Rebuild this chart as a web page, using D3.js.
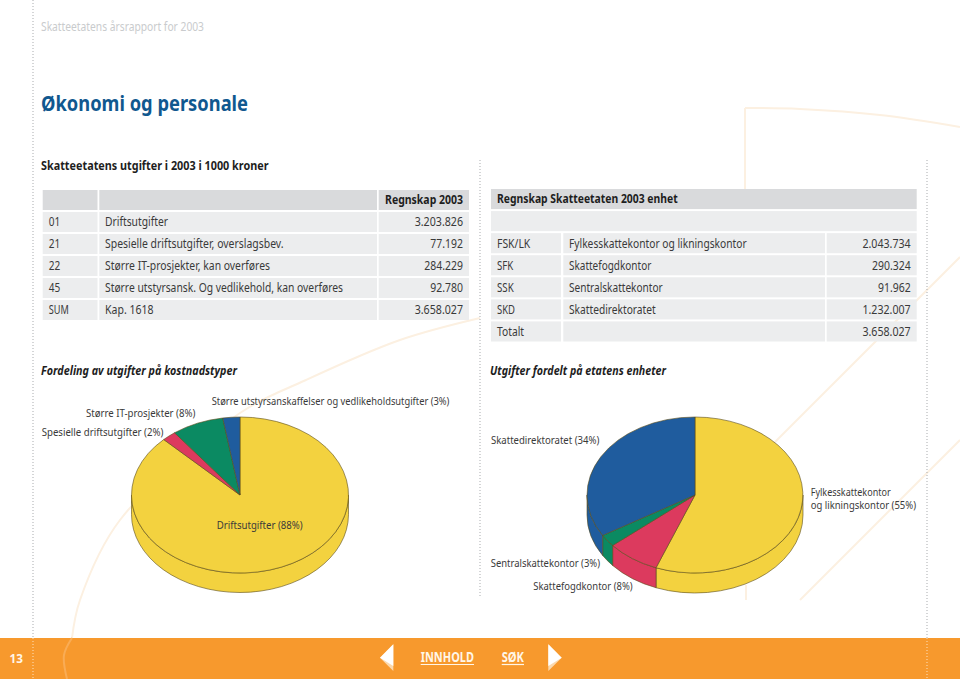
<!DOCTYPE html>
<html><head><meta charset="utf-8">
<script src="https://cdn.jsdelivr.net/npm/d3@7/dist/d3.min.js"></script>
<style>
html,body{margin:0;padding:0;background:#fff}
svg{display:block}
text{font-family:"Noto Sans",sans-serif;fill:#3a3a3a}
</style></head><body>
<svg id="c" width="960" height="679"></svg>
<script>
const costCodes=["01","21","22","45","SUM"];
const costNames=["Driftsutgifter","Spesielle driftsutgifter, overslagsbev.","Større IT-prosjekter, kan overføres","Større utstyrsansk. Og vedlikehold, kan overføres","Kap. 1618"];
const costValues=["3.203.826","77.192","284.229","92.780","3.658.027"];
const unitCodes=["FSK/LK","SFK","SSK","SKD","Totalt"];
const unitNames=["Fylkesskattekontor og likningskontor","Skattefogdkontor","Sentralskattekontor","Skattedirektoratet",""];
const unitValues=["2.043.734","290.324","91.962","1.232.007","3.658.027"];
const pieCostValues=[3203826,77192,284229,92780];
const pieCostLabels=["Driftsutgifter (88%)","Spesielle driftsutgifter (2%)","Større IT-prosjekter (8%)","Større utstyrsanskaffelser og vedlikeholdsutgifter (3%)"];
const pieUnitValues=[2043734,290324,91962,1232007];
const pieUnitLabels=[["Fylkesskattekontor","og likningskontor (55%)"],["Skattefogdkontor (8%)"],["Sentralskattekontor (3%)"],["Skattedirektoratet (34%)"]];
const sliceColors=["#f3d23f","#dc3a5e","#0b8a62","#1f5c9e"];

// measured text widths (layout only): the reference face is narrower than any installed one
const fit=new Map([
 ["Skatteetatens årsrapport for 2003",163],["Økonomi og personale",207],
 ["Skatteetatens utgifter i 2003 i 1000 kroner",227.5],
 ["Fordeling av utgifter på kostnadstyper",196],["Utgifter fordelt på etatens enheter",176],
 ["Regnskap 2003",78],["01",11.5],["21",11.5],["22",11.5],["45",11.5],["SUM",20],
 ["Driftsutgifter",63],["Spesielle driftsutgifter, overslagsbev.",178.5],
 ["Større IT-prosjekter, kan overføres",165],["Større utstyrsansk. Og vedlikehold, kan overføres",238],
 ["Kap. 1618",48.5],["3.203.826",48.3],["77.192",32.7],["284.229",38.7],["92.780",32.7],["3.658.027",48.3],
 ["Regnskap Skatteetaten 2003 enhet",180.7],["FSK/LK",33.3],["SFK",16.3],["SSK",16.7],["SKD",18],["Totalt",27],
 ["Fylkesskattekontor og likningskontor",177.7],["Skattefogdkontor",82.3],["Sentralskattekontor",93.7],["Skattedirektoratet",86.7],
 ["2.043.734",48.3],["290.324",38.7],["91.962",32.7],["1.232.007",48.3],
 ["Driftsutgifter (88%)",86],["Spesielle driftsutgifter (2%)",121.7],["Større IT-prosjekter (8%)",109.3],
 ["Større utstyrsanskaffelser og vedlikeholdsutgifter (3%)",237.7],
 ["Fylkesskattekontor",80],["og likningskontor (55%)",105.3],["Skattefogdkontor (8%)",99.3],
 ["Sentralskattekontor (3%)",109.3],["Skattedirektoratet (34%)",108.3],
 ["13",13.4],["INNHOLD",53.3],["SØK",22.3]
]);

const svg=d3.select("#c");
const HEAD="#d9dadc",ROW="#ecedee",FAINT="#fcf0e1";

// faint background shapes
const bg=svg.append("g").attr("fill","none").attr("stroke",FAINT).attr("stroke-width",2);
const curve=d3.line().curve(d3.curveCatmullRom);
bg.append("path").attr("d",curve([[745,108],[800,109],[880,115],[960,127]]));
bg.append("line").attr("x1",745).attr("y1",108).attr("x2",745).attr("y2",190);
bg.append("line").attr("x1",746).attr("y1",585).attr("x2",746).attr("y2",600);
bg.append("line").attr("x1",960).attr("y1",257).attr("x2",770).attr("y2",447);
bg.append("line").attr("x1",960).attr("y1",440).attr("x2",800).attr("y2",600);
bg.append("path").attr("d",curve([[480,318],[400,340],[306,380],[240,413],[120,520],[80,600],[72,638]]));

// dotted guides
const guides=[[33,0,638],[480,160,598],[927,160,638]];
svg.append("g").selectAll("line").data(guides).join("line")
 .attr("x1",d=>d[0]).attr("x2",d=>d[0]).attr("y1",d=>d[1]).attr("y2",d=>d[2])
 .attr("stroke","#a9abae").attr("stroke-width",1).attr("stroke-dasharray","1 2");

// text helper
const T=(x,y,s,size,o={})=>{
  const w=fit.get(s);
  const t=svg.append("text").attr("x",o.a==="end"?x-w:x).attr("y",y).text(s).attr("font-size",size)
   .attr("font-weight",o.w||400).attr("font-style",o.i?"italic":"normal")
   .style("fill",o.c||"#3a3a3a");
  if(w) t.attr("textLength",w).attr("lengthAdjust","spacingAndGlyphs");
  return t;
};
T(41,31,"Skatteetatens årsrapport for 2003",12.5,{c:"#c9cbcd"});
T(41,110.8,"Økonomi og personale",21,{w:700,c:"#10588f"});
T(41,170,"Skatteetatens utgifter i 2003 i 1000 kroner",12,{w:700,c:"#1e1e1e"});
T(41,375,"Fordeling av utgifter på kostnadstyper",12,{w:700,i:true,c:"#1e1e1e"});
T(490,375,"Utgifter fordelt på etatens enheter",12,{w:700,i:true,c:"#1e1e1e"});

// tables
function table(cols,top,bottom,rows,fullRows){
  const y=d3.scaleBand().domain(d3.range(rows.length)).range([top,bottom]).paddingInner(0.09);
  const g=svg.append("g");
  rows.forEach((r,i)=>{
    const isH=i===0;
    if(fullRows.includes(i)){
      g.append("rect").attr("x",cols[0][0]).attr("width",cols[2][1]-cols[0][0]).attr("y",y(i)).attr("height",y.bandwidth()).attr("fill",isH?HEAD:ROW);
    } else cols.forEach(c=>g.append("rect").attr("x",c[0]).attr("width",c[1]-c[0]).attr("y",y(i)).attr("height",y.bandwidth()).attr("fill",isH?HEAD:ROW));
    const ty=y(i)+y.bandwidth()/2+4.4;
    const st={w:isH?700:400,c:isH?"#1e1e1e":"#3a3a3a"};
    if(r[0]) T(cols[0][0]+6,ty,r[0],11.7,st);
    if(r[1]) T(cols[1][0]+5.7,ty,r[1],11.7,st);
    if(r[2]) T(cols[2][1]-6,ty,r[2],11.7,{...st,a:"end"});
  });
}
const leftRows=[["","","Regnskap 2003"],...costCodes.map((c,i)=>[c,costNames[i],costValues[i]])];
table([[42.7,97.5],[99.3,377],[378.7,469]],190,320,leftRows,[]);
const rightRows=[["Regnskap Skatteetaten 2003 enhet","",""],["","",""],...unitCodes.map((c,i)=>[c,unitNames[i],unitValues[i]])];
table([[491,561],[563.3,825],[826.7,916.7]],189,341.5,rightRows,[0,1]);

// 3D pies
function pie3d(cx,cy,rx,ry,depth,values,colors){
  const arcs=d3.pie().sort(null).startAngle(0).endAngle(2*Math.PI)(values);
  const g=svg.append("g").attr("stroke","#5a4c1a").attr("stroke-width",0.6).attr("stroke-linejoin","round");
  const px=a=>cx+rx*Math.sin(a), py=a=>cy-ry*Math.cos(a);
  const lo=Math.PI/2, hi=3*Math.PI/2;
  arcs.forEach((d,i)=>{
    const a0=Math.max(d.startAngle,lo), a1=Math.min(d.endAngle,hi);
    if(a1<=a0) return;
    g.append("path").attr("fill",colors[i]).attr("d",
      `M${px(a0)},${py(a0)}A${rx},${ry} 0 0 1 ${px(a1)},${py(a1)}L${px(a1)},${py(a1)+depth}A${rx},${ry} 0 0 0 ${px(a0)},${py(a0)+depth}Z`);
  });
  const arc=d3.arc().innerRadius(0).outerRadius(1);
  const top=g.append("g").attr("transform",`translate(${cx},${cy}) scale(${rx},${ry})`);
  top.selectAll("path").data(arcs).join("path").attr("d",arc).attr("fill",(d,i)=>colors[i]).attr("vector-effect","non-scaling-stroke");
}
pie3d(240,495,108.5,78,19.5,pieCostValues,sliceColors);
pie3d(695,495,108,78,20,pieUnitValues,sliceColors);

// pie labels
const L=11.2;
T(216.7,529,pieCostLabels[0],L);
T(41.7,436,pieCostLabels[1],L);
T(86,417.3,pieCostLabels[2],L);
T(211.7,405,pieCostLabels[3],L);
const twoLine=svg.append("text").attr("font-size",L).style("fill","#3a3a3a");
pieUnitLabels[0].forEach((s,i)=>twoLine.append("tspan").attr("x",810.7).attr("y",495.7+13*i).text(s)
  .attr("textLength",fit.get(s)).attr("lengthAdjust","spacingAndGlyphs"));
T(533.3,590,pieUnitLabels[1][0],L);
T(490.7,566.7,pieUnitLabels[2][0],L);
T(491,444,pieUnitLabels[3][0],L);

// footer
const ORANGE="#f7992d", CREAM="#fff6e8";
svg.append("rect").attr("x",0).attr("y",638).attr("width",960).attr("height",41).attr("fill",ORANGE);
const fg=svg.append("g").attr("fill","none").attr("stroke","#f9ac55").attr("stroke-width",2);
fg.append("path").attr("d",curve([[72,638],[64,655],[67,679]]));
svg.append("g").selectAll("line").data([33,927]).join("line").attr("x1",d=>d).attr("x2",d=>d).attr("y1",638).attr("y2",679)
 .attr("stroke","#fde2c2").attr("stroke-width",1).attr("stroke-dasharray","1 2");
T(9.6,663,"13",12.5,{w:700,c:CREAM});
T(420.7,661.7,"INNHOLD",13.5,{w:700,c:CREAM});
T(501.7,661.7,"SØK",13.5,{w:700,c:CREAM});
svg.append("g").attr("stroke",CREAM).attr("stroke-width",1.2).selectAll("line").data([[420.7,474],[501.7,524]]).join("line")
 .attr("x1",d=>d[0]).attr("x2",d=>d[1]).attr("y1",664.5).attr("y2",664.5);
svg.append("path").attr("d","M393.3,644.3L380,657.7L393.3,671Z").attr("fill","#fbd9ae");
svg.append("path").attr("d","M393.3,644.3L380,657.7L393.3,666Z").attr("fill","#fff");
svg.append("path").attr("d","M548.3,644.3L561.7,657.7L548.3,671Z").attr("fill","#fbd9ae");
svg.append("path").attr("d","M548.3,644.3L561.7,657.7L548.3,666Z").attr("fill","#fff");
</script></body></html>
